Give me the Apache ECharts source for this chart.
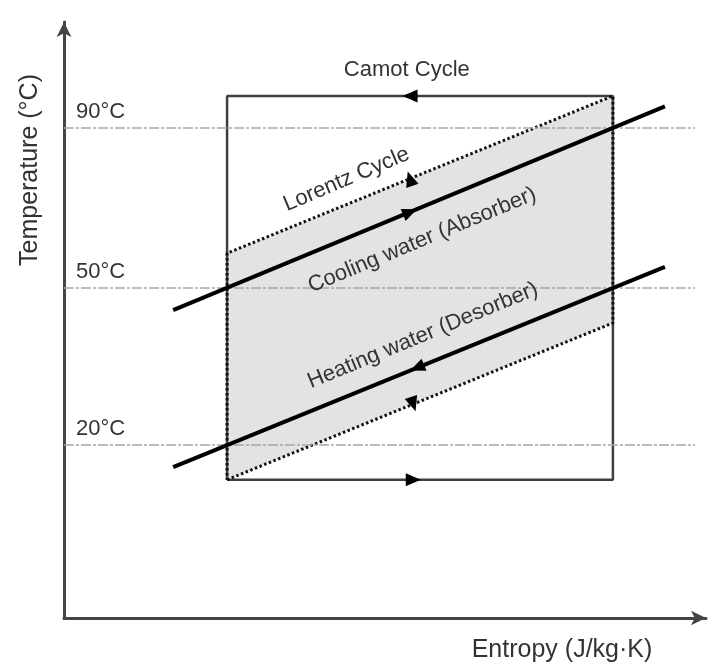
<!DOCTYPE html>
<html>
<head>
<meta charset="utf-8">
<script src="https://cdn.jsdelivr.net/npm/echarts@6/dist/echarts.min.js"></script>
<style>
  html, body { margin: 0; padding: 0; background: #fff; }
  #chart { width: 712px; height: 664px; }
</style>
</head>
<body>
<div id="chart"></div>
<script>
// Schematic T-s diagram, in diagram units (0..100 on both axes)

// Carnot cycle rectangle (entropy, temperature), closed path
const carnotS = [25.4, 85.5, 85.5, 25.4, 25.4];
const carnotT = [23.2, 23.2, 87.6, 87.6, 23.2];

// Lorentz cycle parallelogram, closed path
const lorentzS = [25.4, 85.5, 85.5, 25.4, 25.4];
const lorentzT = [23.2, 49.5, 87.6, 61.2, 23.2];

// Cooling water (absorber) and heating water (desorber) lines
const coolingS = [17.0, 93.6];
const coolingT = [51.65, 85.85];
const heatingS = [17.0, 93.6];
const heatingT = [25.3, 58.9];

// Reference temperature levels
const levelNames = ['90°C', '50°C', '20°C'];
const levelT = [82.2, 55.4, 29.0];
const levelEndS = 98.3;

// Direction arrows: position and heading (degrees)
const arrowS = [53.9, 54.4, 53.9, 54.4, 53.9, 55.0];
const arrowT = [87.6, 23.2, 73.7, 35.9, 68.1, 42.0];
const arrowRot = [90, -90, 18, 198, -67.5, 112.5];

// Curve annotations
const noteText = ['Camot Cycle', 'Lorentz Cycle', 'Cooling water (Absorber)', 'Heating water (Desorber)'];
const noteS = [53.4, 44.0, 55.8, 55.9];
const noteT = [91.9, 73.6, 63.4, 47.4];
const noteRot = [0, 23, 22.5, 22.5];

const FONT = "'Liberation Sans', Arial, sans-serif";
const TEXT = '#333333';

const zip = (a, b) => a.map((v, i) => [v, b[i]]);

const chart = echarts.init(document.getElementById('chart'), null, { renderer: 'canvas' });

const hiddenAxis = {
  type: 'value', min: 0, max: 100,
  axisTick: { show: false }, axisLabel: { show: false }, splitLine: { show: false },
  axisLine: { show: true, lineStyle: { color: '#444', width: 3 }, symbol: ['none', 'arrow'], symbolSize: [11, 15] }
};

chart.setOption({
  animation: false,
  backgroundColor: '#ffffff',
  grid: { left: 64, top: 22, right: 6, bottom: 46 },
  xAxis: Object.assign({}, hiddenAxis),
  yAxis: Object.assign({}, hiddenAxis),
  graphic: [
    {
      type: 'text', x: 562, y: 650, z: 10,
      style: { text: 'Entropy (J/kg·K)', font: '25px ' + FONT, fill: TEXT, textAlign: 'center', textVerticalAlign: 'middle' }
    },
    {
      type: 'text', x: 30, y: 170, rotation: Math.PI / 2, z: 10,
      style: { text: 'Temperature (°C)', font: '25px ' + FONT, fill: TEXT, textAlign: 'center', textVerticalAlign: 'middle' }
    }
  ],
  series: [
    {
      // shaded Lorentz cycle area
      type: 'custom',
      silent: true,
      data: [0],
      z: 1,
      renderItem: function (params, api) {
        const pts = lorentzS.slice(0, 4).map((s, i) => api.coord([s, lorentzT[i]]));
        return { type: 'polygon', shape: { points: pts }, style: { fill: '#e3e3e3' } };
      }
    },
    {
      // reference temperature levels
      type: 'line',
      silent: true,
      data: [],
      z: 2,
      markLine: {
        silent: true,
        symbol: ['none', 'none'],
        lineStyle: { color: '#a8a8a8', width: 1.5, type: [10, 2, 3, 2] },
        label: {
          show: true, position: 'insideStartTop', distance: [12, 5],
          fontFamily: FONT, fontSize: 22, color: TEXT,
          formatter: p => p.name
        },
        data: levelNames.map((n, i) => [
          { name: n, coord: [0, levelT[i]] },
          { coord: [levelEndS, levelT[i]] }
        ])
      }
    },
    {
      name: 'Carnot',
      type: 'line',
      data: zip(carnotS, carnotT),
      symbol: 'none',
      z: 3,
      lineStyle: { color: '#3f3f3f', width: 2.5 }
    },
    {
      name: 'Lorentz',
      type: 'line',
      data: zip(lorentzS, lorentzT),
      symbol: 'none',
      z: 4,
      lineStyle: { color: '#111', width: 3, type: [2.5, 2.5] }
    },
    {
      name: 'Cooling water',
      type: 'line',
      data: zip(coolingS, coolingT),
      symbol: 'none',
      z: 5,
      lineStyle: { color: '#000', width: 4 }
    },
    {
      name: 'Heating water',
      type: 'line',
      data: zip(heatingS, heatingT),
      symbol: 'none',
      z: 5,
      lineStyle: { color: '#000', width: 4 }
    },
    {
      // direction arrows
      type: 'scatter',
      silent: true,
      z: 6,
      symbol: 'triangle',
      symbolSize: [13, 15],
      itemStyle: { color: '#000', opacity: 1 },
      data: arrowS.map((s, i) => ({ value: [s, arrowT[i]], symbolRotate: arrowRot[i] }))
    },
    {
      // annotations
      type: 'scatter',
      silent: true,
      z: 7,
      symbolSize: 1,
      itemStyle: { color: 'rgba(0,0,0,0)', opacity: 1 },
      data: noteText.map((t, i) => ({
        value: [noteS[i], noteT[i]],
        label: {
          show: true, formatter: t, position: 'inside', rotate: noteRot[i],
          fontFamily: FONT, fontSize: 22, color: TEXT
        }
      }))
    }
  ]
});
</script>
</body>
</html>
